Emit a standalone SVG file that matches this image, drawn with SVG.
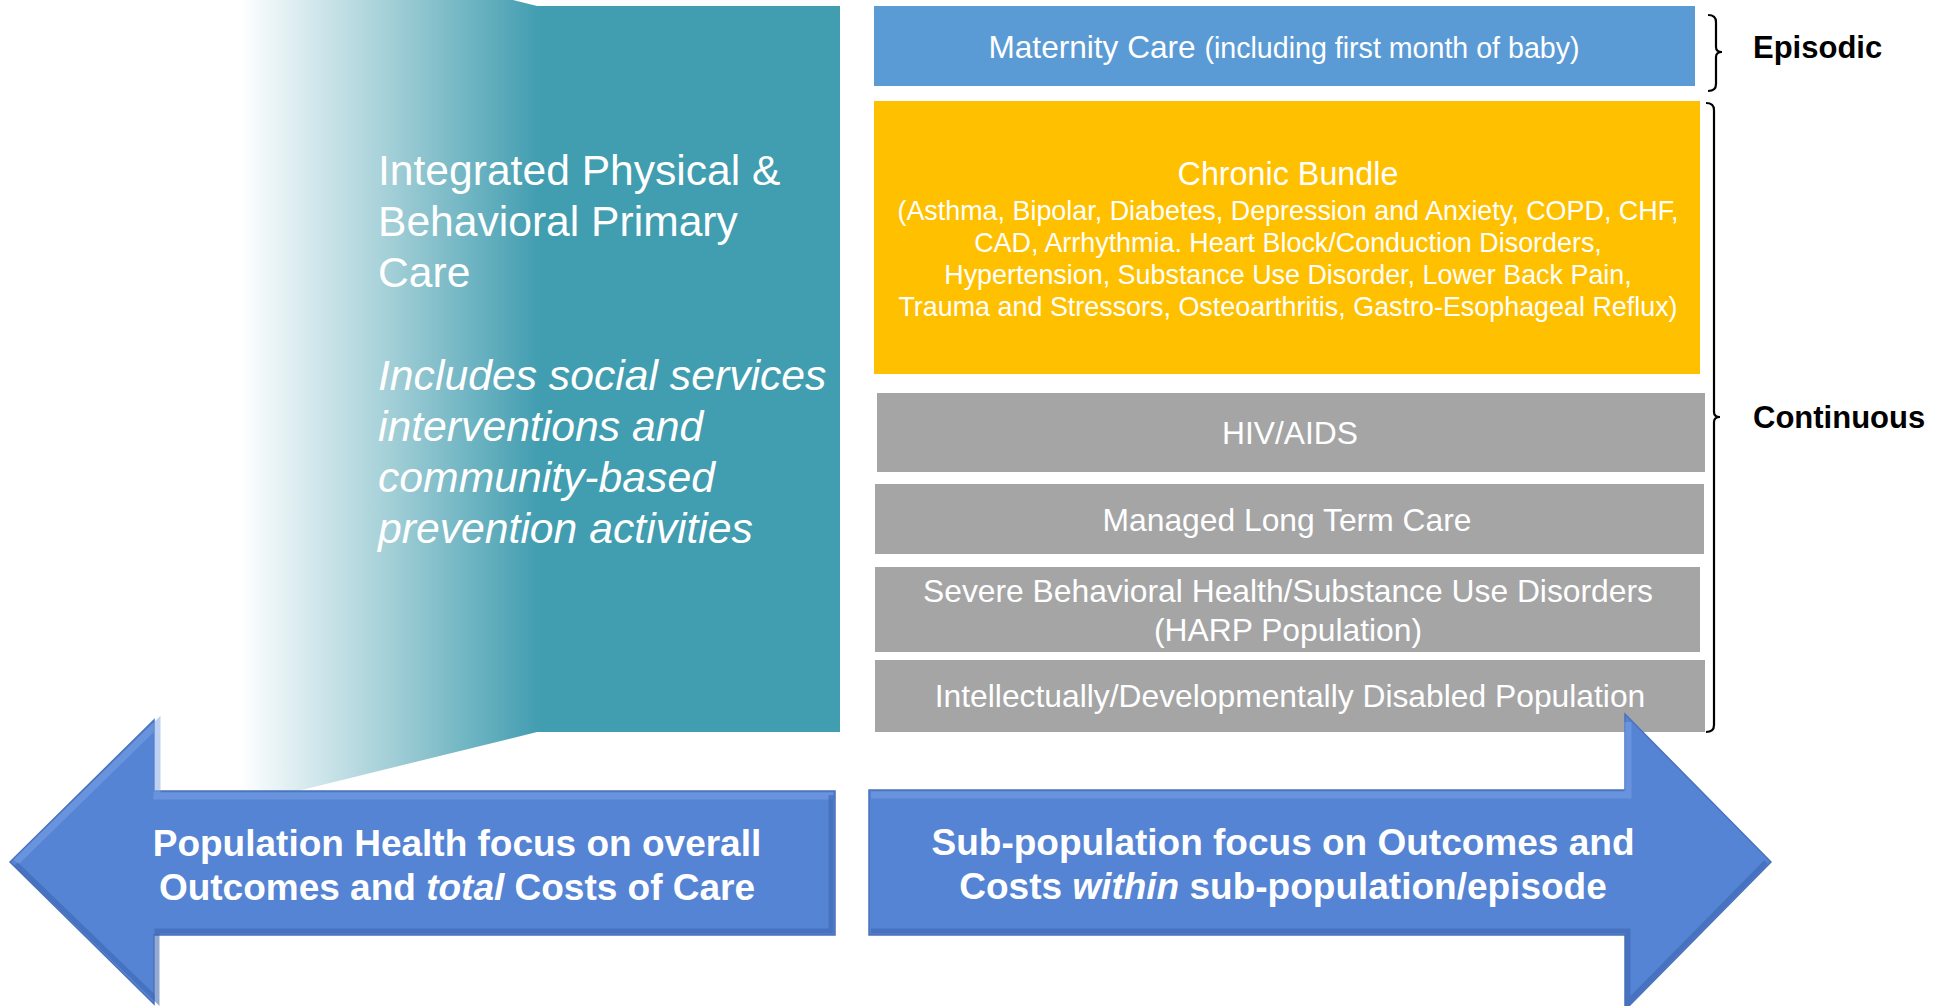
<svg xmlns="http://www.w3.org/2000/svg" width="1936" height="1006" viewBox="0 0 1936 1006">
<style>
.wt{fill:#fff;font-family:"Liberation Sans",Arial,sans-serif}
.bx{font-family:"Liberation Sans",Arial,sans-serif;fill:#fff;text-anchor:middle}
.lbl{font-family:"Liberation Sans",Arial,sans-serif;font-weight:bold;fill:#000;font-size:31px}
.brace{fill:none;stroke:#000;stroke-width:2.2}
.arrow{fill:#5584D4;stroke:#4A72BC;stroke-width:1.5}
.hi{fill:none;stroke:#7EA3E6;stroke-width:7;opacity:.5;stroke-linejoin:miter}
.sh{fill:none;stroke:#3B64AD;stroke-width:5;opacity:.55}
.at{font-family:"Liberation Sans",Arial,sans-serif;font-weight:bold;fill:#fff;font-size:37px;text-anchor:middle}
</style>
<defs>
<linearGradient id="tealGrad" gradientUnits="userSpaceOnUse" x1="240" y1="0" x2="540" y2="0">
<stop offset="0" stop-color="#FFFFFF"/>
<stop offset="0.5" stop-color="#A3CFD7"/>
<stop offset="1" stop-color="#419DB0"/>
</linearGradient>
</defs>
<rect width="1936" height="1006" fill="#fff"/>

<g id="primary-care">
<polygon points="537,6 840,6 840,732 537,732 200,815 200,-77 513,0" fill="url(#tealGrad)"/>
<text class="wt" font-size="42.6" x="378" y="185">Integrated Physical &amp;</text>
<text class="wt" font-size="42.6" x="378" y="236">Behavioral Primary</text>
<text class="wt" font-size="42.6" x="378" y="287">Care</text>
<text class="wt" font-size="42.7" font-style="italic" x="378" y="390">Includes social services</text>
<text class="wt" font-size="42.7" font-style="italic" x="378" y="441">interventions and</text>
<text class="wt" font-size="42.7" font-style="italic" x="378" y="492">community-based</text>
<text class="wt" font-size="42.7" font-style="italic" x="378" y="543">prevention activities</text>
</g>

<g id="maternity">
<rect x="874" y="6" width="821" height="80" fill="#5B9BD5"/>
<text class="bx" x="1284" y="58"><tspan font-size="31.6">Maternity Care </tspan><tspan font-size="28.6">(including first month of baby)</tspan></text>
</g>

<g id="chronic">
<rect x="874" y="101" width="826" height="273" fill="#FFC000"/>
<text class="bx" font-size="32.3" x="1288" y="185">Chronic Bundle</text>
<text class="bx" font-size="26.9" x="1288" y="220">(Asthma, Bipolar, Diabetes, Depression and Anxiety, COPD, CHF,</text>
<text class="bx" font-size="26.9" x="1288" y="252">CAD, Arrhythmia. Heart Block/Conduction Disorders,</text>
<text class="bx" font-size="26.9" x="1288" y="284">Hypertension, Substance Use Disorder, Lower Back Pain,</text>
<text class="bx" font-size="26.9" x="1288" y="316">Trauma and Stressors, Osteoarthritis, Gastro-Esophageal Reflux)</text>
</g>

<g id="hiv">
<rect x="877" y="393" width="828" height="79" fill="#A5A5A5"/>
<text class="bx" font-size="31.8" x="1290" y="444">HIV/AIDS</text>
</g>

<g id="mltc">
<rect x="875" y="484" width="829" height="70" fill="#A5A5A5"/>
<text class="bx" font-size="31.8" x="1287" y="531">Managed Long Term Care</text>
</g>

<g id="harp">
<rect x="875" y="567" width="825" height="85" fill="#A5A5A5"/>
<text class="bx" font-size="31.8" x="1288" y="602">Severe Behavioral Health/Substance Use Disorders</text>
<text class="bx" font-size="31.8" x="1288" y="641">(HARP Population)</text>
</g>

<g id="idd">
<rect x="875" y="660" width="830" height="72" fill="#A5A5A5"/>
<text class="bx" font-size="31.8" x="1290" y="707">Intellectually/Developmentally Disabled Population</text>
</g>

<g id="episodic">
<path class="brace" d="M1708,15 Q1716,15 1716,22 L1716,47 Q1716,52 1722,52 Q1716,52 1716,57 L1716,84 Q1716,91 1708,91"/>
<text class="lbl" x="1753" y="58">Episodic</text>
</g>

<g id="continuous">
<path class="brace" d="M1706,103 Q1714,103 1714,110 L1714,412 Q1714,417 1720,417 Q1714,417 1714,422 L1714,725 Q1714,732 1706,732"/>
<text class="lbl" x="1753" y="428">Continuous</text>
</g>

<g id="population-arrow">
<path class="arrow" d="M10,862 L154,720 L154,791 L835,791 L835,935 L154,935 L154,1004 Z"/>
<polyline class="hi" points="16,862 157,724 157,796 833,796"/>
<polyline class="sh" points="16,864 157,1000 157,931 831,931 831,795"/>
<text class="at" x="457" y="856">Population Health focus on overall</text>
<text class="at" x="457" y="900">Outcomes and <tspan font-style="italic">total</tspan> Costs of Care</text>
</g>

<g id="subpopulation-arrow">
<path class="arrow" d="M869,790 L1625,790 L1625,714 L1771,862 L1625,1010 L1625,935 L869,935 Z"/>
<polyline class="hi" points="871,795 1628,795 1628,722"/>
<polyline class="sh" points="1766,862 1628,1002 1628,931 871,931"/>
<text class="at" x="1283" y="855">Sub-population focus on Outcomes and</text>
<text class="at" x="1283" y="899">Costs <tspan font-style="italic">within</tspan> sub-population/episode</text>
</g>

<g id="connectors"></g>
</svg>
